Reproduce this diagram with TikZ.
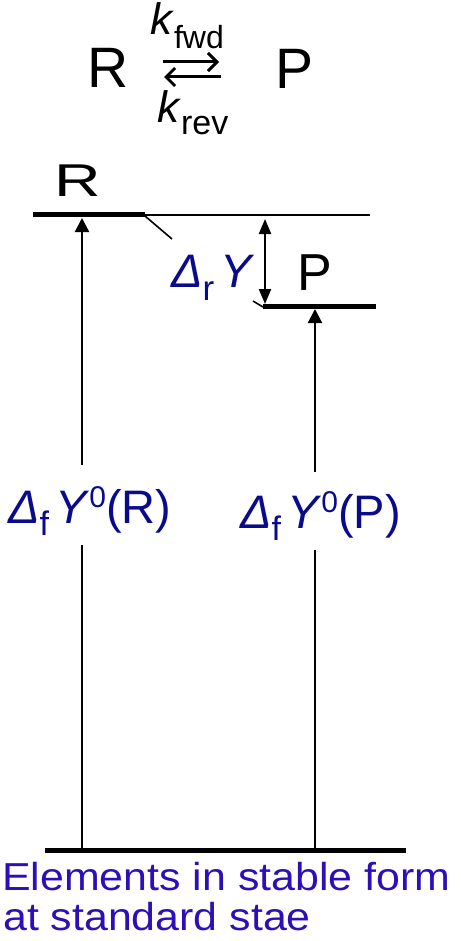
\documentclass[tikz,border=0pt]{standalone}
\usepackage{fontspec}
\setmainfont{Liberation Sans}
\newfontfamily\widesans[FakeStretch=1.1]{Liberation Sans}
\newfontfamily\widerR[FakeStretch=1.4]{Liberation Sans}
\usetikzlibrary{arrows.meta, positioning}
\definecolor{deltablue}{RGB}{10,10,140}
\definecolor{elemblue}{RGB}{43,16,184}
\newcommand{\fs}[1]{\fontsize{#1}{#1}\selectfont}
\newcommand{\shifted}[3]{\raisebox{#1}{\fs{#2}#3}}

\begin{document}
\begin{tikzpicture}[
    x=1pt, y=-1pt,
    lbl/.style={anchor=base west, inner sep=0pt},
    level/.style={line width=5pt},
    thin/.style={line width=1.6pt},
    stem/.style={line width=2.2pt},
    rise/.style={line width=2.2pt, -{Triangle[length=14pt,width=14pt]}},
    gap/.style={line width=2.2pt, {Triangle[length=15pt,width=12pt]}-{Triangle[length=15pt,width=12pt]}},
    rxn/.style={line width=3pt, -{Straight Barb[length=9pt,width=18pt]}}
]
\useasboundingbox (0,0) rectangle (460,941);

% reaction scheme
\node[lbl] (topR) at (87,88) {\fs{57}R};
\node[lbl] (topP) at (275,89) {\fs{57}P};
\node[lbl] (kfwd) at (150,35) {\fs{44}\textit{k}\shifted{-14pt}{32}{fwd}};
\node[lbl] (krev) at (157,123) {\fs{44}\textit{k}\shifted{-12pt}{34}{rev}};
\coordinate (fwdA) at (163,62); \coordinate (fwdB) at (219,62);
\coordinate (revA) at (221,77); \coordinate (revB) at (164,77);
\draw[rxn] (fwdA) -- (fwdB);
\draw[rxn] (revA) -- (revB);

% levels
\coordinate (Rl) at (33,215); \coordinate (Rr) at (145,215); \coordinate (Rref) at (370,215);
\coordinate (Pl) at (263,306); \coordinate (Pr) at (376,306);
\coordinate (El) at (45,850); \coordinate (Er) at (406,850);
\draw[level] (Rl) -- (Rr);
\draw[thin] (Rr) -- (Rref);
\draw[level] (Pl) -- (Pr);
\draw[level] (El) -- (Er);
\node[lbl] (labR) at (54,197) {\widerR\fs{46}R};
\node[lbl] (labP) at (297,290) {\fs{52}P};

% reaction quantity
\coordinate (gapT) at (265,219); \coordinate (gapB) at (265,304);
\draw[gap] (gapT) -- (gapB);
\coordinate (t1a) at (145,216); \coordinate (t1b) at (172,239);
\coordinate (t2a) at (253,301); \coordinate (t2b) at (263,307);
\draw[thin] (t1a) -- (t1b);
\draw[thin] (t2a) -- (t2b);
\node[lbl, text=deltablue] (drY) at (171,287) {\fs{47}\textit{Δ}\shifted{-13pt}{35}{r}\hspace{6pt}\textit{Y}};

% formation arrows
\node[lbl, text=deltablue] (dfR) at (8,523) {\fs{47}\textit{Δ}\shifted{-12pt}{34}{f}\hspace{6pt}\textit{Y}\shifted{16pt}{30}{0}(R)};
\node[lbl, text=deltablue] (dfP) at (240,528) {\fs{47}\textit{Δ}\shifted{-12pt}{34}{f}\hspace{6pt}\textit{Y}\shifted{16pt}{30}{0}(P)};
\coordinate (Rb) at (82,850); \coordinate (Rgb) at (82,545);
\coordinate (Rgt) at (82,465); \coordinate (Rt) at (82,218);
\coordinate (Pb) at (315,850); \coordinate (Pgb) at (315,550);
\coordinate (Pgt) at (315,472); \coordinate (Pt) at (315,309);
\draw[stem] (Rb) -- (Rgb);
\draw[rise] (Rgt) -- (Rt);
\draw[stem] (Pb) -- (Pgb);
\draw[rise] (Pgt) -- (Pt);

% reference state
\node[lbl, text=elemblue] (elemA) at (2,890) {\widesans\fs{39}Elements in stable form};
\node[lbl, text=elemblue] (elemB) at (3,930) {\widesans\fs{39}at standard stae};
\end{tikzpicture}
\end{document}
